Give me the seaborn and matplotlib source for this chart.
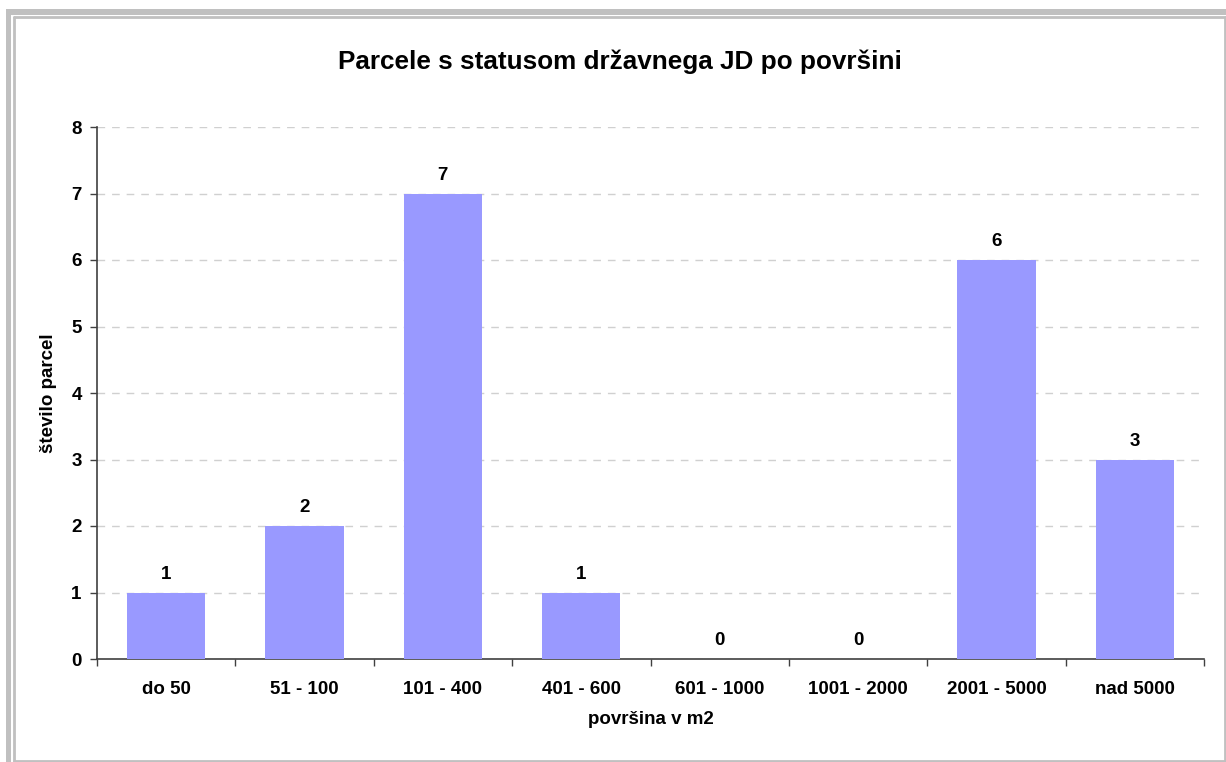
import matplotlib
matplotlib.use("Agg")
import matplotlib.pyplot as plt
import seaborn as sns
import pandas as pd
from matplotlib.patches import Rectangle
from matplotlib.lines import Line2D
from matplotlib.ticker import FixedLocator

categories = ["do 50", "51 - 100", "101 - 400", "401 - 600", "601 - 1000",
              "1001 - 2000", "2001 - 5000", "nad 5000"]
counts = [1, 2, 7, 1, 0, 0, 6, 3]

sns.set_theme(style="white")
plt.rcParams["font.family"] = ["Liberation Sans", "DejaVu Sans"]

df = pd.DataFrame({"kategorija": categories, "parcele": counts})

W, H = 1226, 762
fig = plt.figure(figsize=(W / 100, H / 100), dpi=100)
fig.patch.set_facecolor("white")

# frame around the chart area
gray = "#c0c0c0"
fig.patches.append(Rectangle((6 / W, 0), 5 / W, 1 - 9 / H, transform=fig.transFigure,
                             facecolor=gray, edgecolor="none"))
fig.patches.append(Rectangle((6 / W, 1 - 15 / H), 1 - 6 / W, 6 / H, transform=fig.transFigure,
                             facecolor=gray, edgecolor="none"))
for xs, ys in [([13.5 / W, 1225 / W], [1 - 16.5 / H] * 2),
               ([13.5 / W] * 2, [1 - 16.5 / H, 1 / H]),
               ([1225 / W] * 2, [1 - 16.5 / H, 1 / H]),
               ([13.5 / W, 1225 / W], [1.2 / H] * 2)]:
    fig.lines.append(Line2D(xs, ys, transform=fig.transFigure, color=gray, lw=2))

ax = fig.add_axes([97 / W, 1 - 659 / H, (1204 - 97) / W, (659 - 127) / H])
sns.barplot(data=df, x="kategorija", y="parcele", color="#9999ff", saturation=1,
            width=0.565, ax=ax, zorder=3)
for p in ax.patches:
    p.set_edgecolor("none")

ax.set_xlim(-0.5, len(categories) - 0.5)
ax.set_ylim(0, 8)
ax.set_yticks(range(0, 9))
ax.yaxis.grid(True, color="#d0d0d0", linestyle=(0, (5.5, 5)), lw=1, zorder=0)
ax.xaxis.grid(False)

for s in ["top", "right"]:
    ax.spines[s].set_visible(False)
for s in ["left", "bottom"]:
    ax.spines[s].set_color("#404040")
    ax.spines[s].set_linewidth(1.2)

fs = 13.5
ax.tick_params(axis="y", which="major", left=True, length=5, width=1, color="#404040",
               labelsize=fs, pad=6)
ax.tick_params(axis="x", which="major", bottom=False, labelsize=fs, pad=10)
ax.xaxis.set_minor_locator(FixedLocator([i - 0.5 for i in range(len(categories) + 1)]))
ax.tick_params(axis="x", which="minor", bottom=True, length=5, width=1, color="#404040")
for lab in ax.get_xticklabels() + ax.get_yticklabels():
    lab.set_fontweight("bold")
    lab.set_color("black")

for i, v in enumerate(counts):
    ax.annotate(str(v), (i, v), xytext=(0, 7), textcoords="offset points",
                ha="center", va="bottom", fontsize=fs, fontweight="bold", color="black")

ax.set_xlabel("površina v m2", fontsize=fs, fontweight="bold", color="black", labelpad=9)
ax.set_ylabel("število parcel", fontsize=fs, fontweight="bold", color="black", labelpad=10)
fig.text(620 / W, 1 - 62 / H, "Parcele s statusom državnega JD po površini",
         ha="center", va="center", fontsize=18.8, fontweight="bold", color="black")

fig.savefig("out.png", dpi=100, facecolor="white")
